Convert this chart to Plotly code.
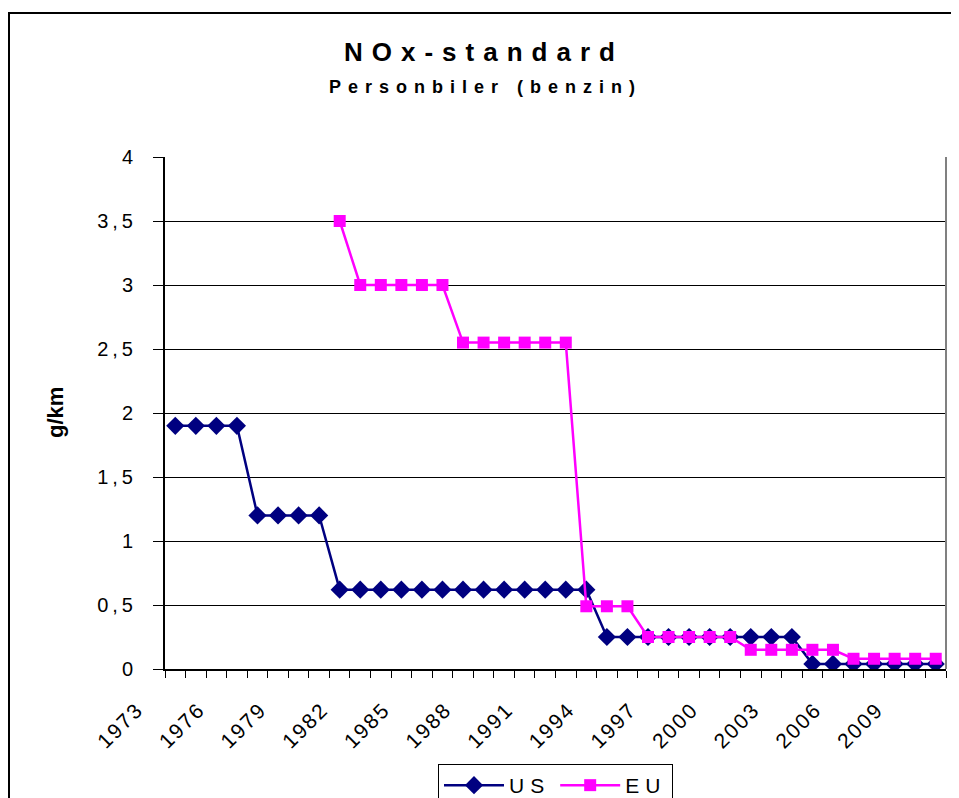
import plotly.graph_objects as go

years = list(range(1973, 2011))
us_values = [1.9, 1.9, 1.9, 1.9,
             1.2, 1.2, 1.2, 1.2,
             0.62, 0.62, 0.62, 0.62, 0.62, 0.62, 0.62, 0.62, 0.62, 0.62, 0.62, 0.62, 0.62,
             0.25, 0.25, 0.25, 0.25, 0.25, 0.25, 0.25, 0.25, 0.25, 0.25,
             0.04, 0.04, 0.04, 0.04, 0.04, 0.04, 0.04]
eu_years = list(range(1981, 2011))
eu_values = [3.5,
             3.0, 3.0, 3.0, 3.0, 3.0,
             2.55, 2.55, 2.55, 2.55, 2.55, 2.55,
             0.49, 0.49, 0.49,
             0.25, 0.25, 0.25, 0.25, 0.25,
             0.15, 0.15, 0.15, 0.15, 0.15,
             0.08, 0.08, 0.08, 0.08, 0.08]
x_tick_years = list(range(1973, 2011, 3))
y_tick_vals = [0, 0.5, 1, 1.5, 2, 2.5, 3, 3.5, 4]
y_tick_text = ["0", "0,5", "1", "1,5", "2", "2,5", "3", "3,5", "4"]

FONT = "Liberation Sans, Arial, sans-serif"

def spaced(t, px):
    return f'<span style="letter-spacing:{px}px">{t}</span>'

fig = go.Figure()
fig.add_trace(go.Scatter(
    x=years, y=us_values, name=spaced("US", 6), mode="lines+markers",
    line=dict(color="#000080", width=2.5),
    marker=dict(symbol="diamond", size=14, color="#000080"),
))
fig.add_trace(go.Scatter(
    x=eu_years, y=eu_values, name=spaced("EU", 6), mode="lines+markers",
    line=dict(color="#FF00FF", width=2.5),
    marker=dict(symbol="square", size=12, color="#FF00FF"),
))

# page body has an 8px margin; work in window pixels and convert
OFF = 8
W, H = 951, 790
L, T = 165 - OFF, 157 - OFF
R = W - (946 - OFF)
B = H - (669 - OFF)
pw, ph = W - L - R, H - T - B

def px_x(p):
    return (p - OFF - L) / pw

def px_y(p):
    return (H - B - (p - OFF)) / ph

fig.update_layout(
    width=W, height=H,
    margin=dict(l=L, r=R, t=T, b=B, autoexpand=False),
    paper_bgcolor="white", plot_bgcolor="white",
    font=dict(family=FONT, color="black", size=18),
    showlegend=True,
    legend=dict(
        orientation="h", x=0.5, xanchor="center", y=px_y(764), yanchor="top",
        bordercolor="black", borderwidth=1, font=dict(size=21),
        itemwidth=60, bgcolor="white",
    ),
    xaxis=dict(
        range=[1972.5, 2010.5], tickmode="array", tickvals=x_tick_years,
        ticktext=[spaced(str(y), 2) for y in x_tick_years],
        tickangle=-45, ticklen=0, showgrid=False, zeroline=False,
        showline=True, linecolor="black", linewidth=2,
        ticklabelshift=-38, ticklabelstandoff=18,
        tickfont=dict(size=21),
        minor=dict(tick0=1972.5, dtick=1, ticks="outside", ticklen=7,
                   tickcolor="black", tickwidth=1, showgrid=False),
    ),
    yaxis=dict(
        range=[0, 4], tickmode="array", tickvals=y_tick_vals,
        ticktext=[spaced(t, 4) for t in y_tick_text],
        ticks="outside", ticklen=10, tickcolor="black", tickwidth=1,
        showgrid=True, gridcolor="black", gridwidth=1, zeroline=False,
        showline=True, linecolor="black", linewidth=2,
        ticklabelstandoff=12, tickfont=dict(size=20),
    ),
    shapes=[
        dict(type="line", xref="paper", yref="paper", x0=1, x1=1, y0=0, y1=1,
             line=dict(color="#808080", width=2)),
        # chart-area frame: only its left and top edges lie inside the window
        dict(type="line", xref="paper", yref="paper",
             x0=px_x(9), x1=px_x(9), y0=px_y(12), y1=px_y(830),
             line=dict(color="black", width=2), layer="below"),
        dict(type="line", xref="paper", yref="paper",
             x0=px_x(8), x1=px_x(1000), y0=px_y(13), y1=px_y(13),
             line=dict(color="black", width=2), layer="below"),
    ],
    annotations=[
        dict(text="<b>" + spaced("NOx-standard", 9) + "</b>", xref="paper", yref="paper",
             x=px_x(484), y=px_y(52), showarrow=False, font=dict(size=26),
             xanchor="center", yanchor="middle"),
        dict(text="<b>" + spaced("Personbiler (benzin)", 7) + "</b>", xref="paper", yref="paper",
             x=px_x(485), y=px_y(87), showarrow=False, font=dict(size=18),
             xanchor="center", yanchor="middle"),
        dict(text="<b>g/km</b>", xref="paper", yref="paper",
             x=px_x(55), y=0.5, showarrow=False, font=dict(size=22),
             textangle=-90, xanchor="center", yanchor="middle"),
    ],
)

fig.write_html("out.html")
